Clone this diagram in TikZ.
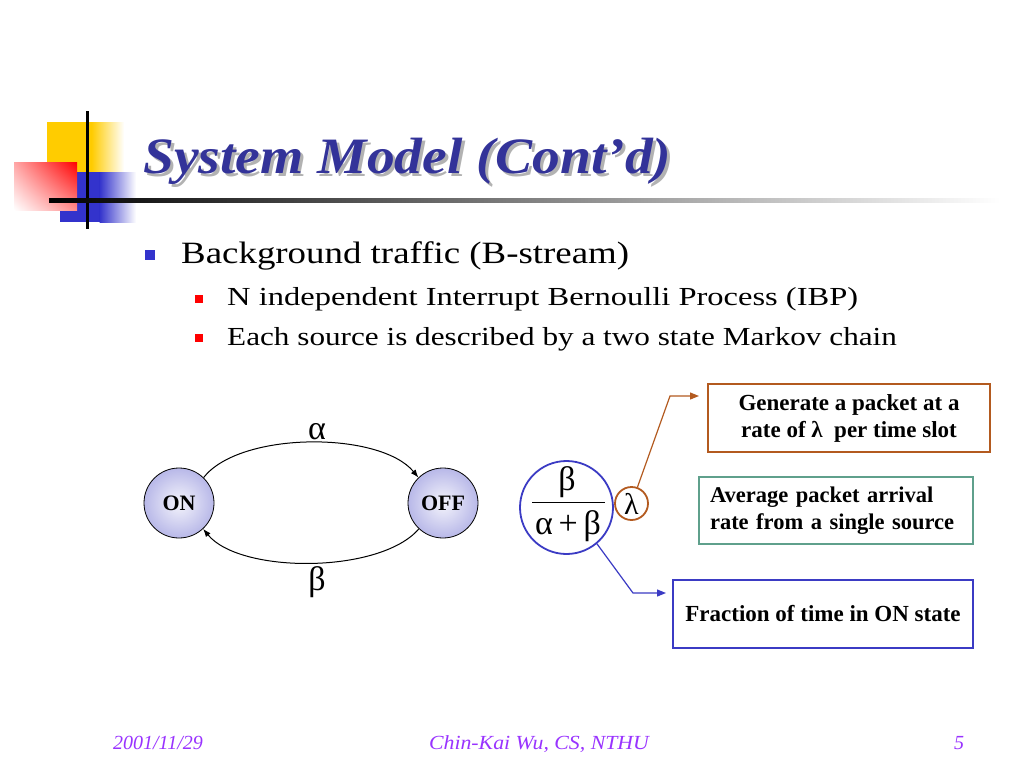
\documentclass[tikz,border=0pt]{standalone}
\usepackage{fontspec}
\usepackage{graphicx}
\setmainfont{Liberation Serif}
\usetikzlibrary{arrows.meta,shadings}
\definecolor{titleblue}{HTML}{333399}
\definecolor{bulblue}{HTML}{3333CC}
\definecolor{logoyellow}{HTML}{FFCC00}
\definecolor{logoblue}{HTML}{3333CC}
\definecolor{statefill}{HTML}{B8B8E8}
\definecolor{brownc}{HTML}{B35A1F}
\definecolor{tealc}{HTML}{5FA08C}
\definecolor{fracblue}{HTML}{3B3BC4}
\definecolor{footc}{HTML}{9933FF}
\tikzset{
  txt/.style={inner sep=0pt, anchor=base west},
  state/.style={circle, draw=black, line width=0.8pt, minimum size=70pt, inner sep=0pt,
    inner color=white!85!statefill, outer color=statefill, font=\fontsize{22}{26}\selectfont\bfseries},
  greek/.style={inner sep=0pt, font=\fontsize{34}{40}\selectfont},
  notebox/.style={draw, line width=1.5pt, inner sep=0pt, font=\fontsize{23}{27}\selectfont\bfseries},
  footer/.style={inner sep=0pt, anchor=base, text=footc, font=\fontsize{20}{24}\selectfont\itshape},
  trans/.style={line width=1pt, -{Latex[length=8pt,width=6pt]}},
}
\begin{document}
\begin{tikzpicture}[x=1pt,y=-1pt]
\useasboundingbox[fill=white] (0,0) rectangle (1024,768);
% logo
\fill[logoyellow] (47,122) rectangle (92,172);
\shade[left color=logoyellow, right color=white] (91.5,122) rectangle (124,172);
\fill[logoyellow] (47,172) rectangle (60,200);
\fill[logoblue] (60,172) rectangle (100,222);
\shade[left color=logoblue, right color=white] (99.5,172) rectangle (136,222);
\shade[upper right=red, lower right=red!45, upper left=red!35, lower left=white] (14,162) rectangle (77,210);
\fill[black] (85.5,111) rectangle (89,229);
\shade[left color=black, right color=white] (49,198.5) rectangle (1000,202.5);
% title
\node[txt, text=black!30, font=\fontsize{51}{60}\selectfont\bfseries\itshape] (tshadow) at (146,176) {\scalebox{1.09}[1]{System Model (Cont’d)}};
\node[txt, text=titleblue, font=\fontsize{51}{60}\selectfont\bfseries\itshape] (title) at (143,173) {\scalebox{1.09}[1]{System Model (Cont’d)}};
% bullets
\fill[bulblue] (145,250) rectangle (155,260);
\node[txt, font=\fontsize{31}{36}\selectfont] (b1) at (181,263) {\scalebox{1.19}[1]{Background traffic (B-stream)}};
\fill[red] (195,295) rectangle (203,303);
\node[txt, font=\fontsize{26}{30}\selectfont] (b2) at (227,305) {\scalebox{1.25}[1]{N independent Interrupt Bernoulli Process (IBP)}};
\fill[red] (195,334) rectangle (203,342);
\node[txt, font=\fontsize{26}{30}\selectfont] (b3) at (227,345) {\scalebox{1.2}[1]{Each source is described by a two state Markov chain}};
% Markov chain
\node[state] (on) at (179,503) {ON};
\node[state] (off) at (443,503) {OFF};
\draw[trans] (on.46) .. controls (240,431) and (380,431) .. (off.134);
\draw[trans] (off.-133) .. controls (380,574) and (240,574) .. (on.-47);
\node[greek] (alpha) at (317,432) {α};
\node[greek] (beta) at (317,582) {β};
% fraction
\node[circle, draw=fracblue, line width=1.8pt, minimum size=93pt, inner sep=0pt] (frac) at (566.5,507.5) {};
\node[greek] (fnum) at (567,482) {β};
\draw[line width=1pt] (532,502) -- (605,502);
\node[greek] (fden) at (568,526) {α\,+\,β};
\node[circle, draw=brownc, line width=1.8pt, minimum size=33pt, inner sep=0pt, font=\fontsize{30}{34}\selectfont] (lam) at (631.5,503.5) {λ};
% notes
\node[notebox, draw=brownc, minimum width=282pt, minimum height=68pt, align=center] (gen) at (849,418) {Generate a packet at a\\rate of λ\ \ per time slot};
\node[notebox, draw=tealc, minimum width=274pt, minimum height=67pt, align=left, text width=252pt, font=\fontsize{22.5}{27}\selectfont\bfseries] (avg) at (836,510.5) {Average packet arrival\\rate from a single source};
\node[notebox, draw=fracblue, minimum width=300pt, minimum height=68pt, align=center] (fr) at (823,614) {Fraction of time in ON state};
\coordinate (genbend) at (670,396);
\coordinate (genend) at (699,396);
\draw[brownc, line width=1.2pt, -{Triangle[length=9pt,width=7pt]}] (lam.70) -- (genbend) -- (genend);
\coordinate (frbend) at (633,593);
\coordinate (frend) at (666,593);
\draw[fracblue, line width=1.2pt, -{Triangle[length=9pt,width=7pt]}] (frac.-50) -- (frbend) -- (frend);
% footer
\node[footer] (date) at (158,749) {2001/11/29};
\node[footer] (auth) at (539,749) {\scalebox{1.09}[1]{Chin-Kai Wu, CS, NTHU}};
\node[footer] (page) at (959,749) {5};
\end{tikzpicture}
\end{document}
